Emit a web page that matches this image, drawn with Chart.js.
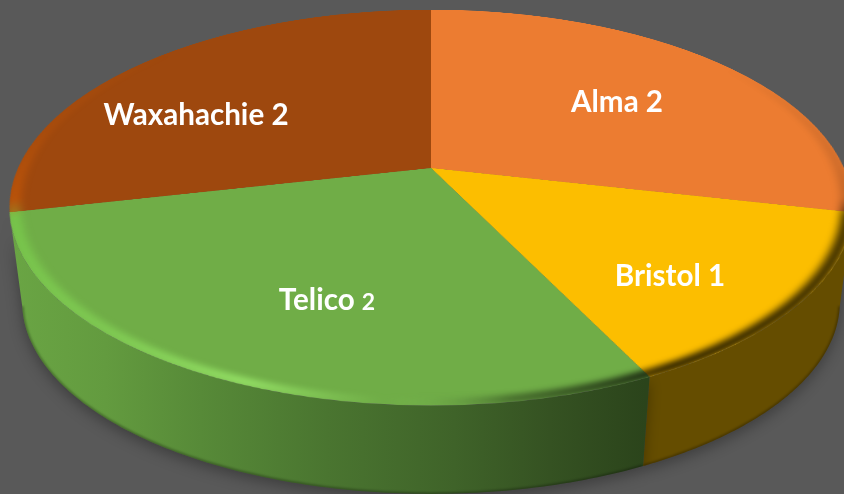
<!DOCTYPE html>
<html>
<head>
<meta charset="utf-8">
<script src="https://cdn.jsdelivr.net/npm/chart.js@4"></script>
<style>
  html, body { margin: 0; padding: 0; width: 844px; height: 494px; overflow: hidden; background: #595959; }
  canvas { position: absolute; left: 0; top: 0; }
  #pieChart { transform-origin: 0 0; }
  .lbl { position: absolute; transform: translate(-50%, -50%); color: #fff; white-space: nowrap;
         font: bold 29.6px Lato, "Open Sans", sans-serif; }
  .lbl small { font-size: 23px; }
</style>
</head>
<body>
<canvas id="wallCanvas" width="844" height="494"></canvas>
<canvas id="pieChart" width="900" height="900"></canvas>
<div id="labels"></div>
<script>
var sliceNames = ['Alma', 'Bristol', 'Telico', 'Waxahachie'];
var sliceValues = [2, 1, 2, 2];
var sliceColors = ['#EC7C31', '#FCBE00', '#70AD47', '#9E480E'];

// where the labels sit on the page, same order as the slices
var labelSpots = [[617, 99.5], [670, 273.5], [327, 297.5], [196, 113]];

// perspective of the pie's top face on the page
var apexX = 431, apexY = 168, faceRx = 413, faceRy = 190, tilt = 0.2;
// bottom edge of the side wall
var wallDrop = 95.5, wallShrink = 0.97;

function project(angle, level) {
    var x = Math.cos(angle), y = Math.sin(angle), w = 1 - tilt * y;
    var s = level ? wallShrink : 1;
    return {
        x: apexX + faceRx * x / w * s,
        y: apexY + faceRy * y / w * s + (level ? wallDrop : 0)
    };
}

function wallFill(ctx, index) {
    if (index !== 2) return '#654D00';
    var g = ctx.createLinearGradient(10, 0, 645, 0);
    g.addColorStop(0, '#6AA544');
    g.addColorStop(0.15, '#639B3F');
    g.addColorStop(0.3, '#578A38');
    g.addColorStop(0.5, '#4A7530');
    g.addColorStop(0.7, '#3F6329');
    g.addColorStop(0.85, '#355222');
    g.addColorStop(1, '#2B441B');
    return g;
}

function drawWall(meta) {
    var ctx = document.getElementById('wallCanvas').getContext('2d');
    meta.data.forEach(function (arc, i) {
        var mid = (arc.startAngle + arc.endAngle) / 2;
        if (Math.sin(mid) <= 0) return;   // back of the pie has no visible wall
        var a, steps = 120, step = (arc.endAngle - arc.startAngle) / steps, p;
        var outline = new Path2D(), lower = new Path2D();
        for (a = 0; a <= steps; a++) {
            p = project(arc.startAngle + a * step, 0);
            if (a === 0) outline.moveTo(p.x, p.y); else outline.lineTo(p.x, p.y);
        }
        for (a = steps; a >= 0; a--) {
            p = project(arc.startAngle + a * step, 1);
            outline.lineTo(p.x, p.y);
            if (a === steps) lower.moveTo(p.x, p.y); else lower.lineTo(p.x, p.y);
        }
        outline.closePath();

        ctx.save();
        ctx.shadowColor = 'rgba(0,0,0,0.3)';
        ctx.shadowBlur = 14;
        ctx.shadowOffsetY = 5;
        ctx.fillStyle = wallFill(ctx, i);
        ctx.fill(outline);
        ctx.restore();

        // darker lip along the bottom edge
        ctx.save();
        ctx.clip(outline);
        ctx.filter = 'blur(1px)';
        ctx.strokeStyle = 'rgba(0,0,0,0.3)';
        ctx.lineWidth = 3;
        ctx.stroke(lower);
        ctx.restore();
    });
}

// soft bevel round the rim of the top face
function drawRim(chart, arc) {
    var ctx = chart.ctx, r = arc.outerRadius, band = 13;
    var g = ctx.createConicGradient(0, arc.x, arc.y);
    g.addColorStop(0, 'rgba(0,0,0,0.12)');
    g.addColorStop(0.025, 'rgba(0,0,0,0.2)');
    g.addColorStop(0.04, 'rgba(0,0,0,0.75)');
    g.addColorStop(0.17, 'rgba(0,0,0,0.8)');
    g.addColorStop(0.225, 'rgba(0,0,0,0.35)');
    g.addColorStop(0.265, 'rgba(170,255,120,0)');
    g.addColorStop(0.31, 'rgba(170,255,120,0.6)');
    g.addColorStop(0.37, 'rgba(150,245,100,0.4)');
    g.addColorStop(0.46, 'rgba(130,235,80,0.4)');
    g.addColorStop(0.475, 'rgba(255,110,0,0.3)');
    g.addColorStop(0.53, 'rgba(255,110,0,0.12)');
    g.addColorStop(0.62, 'rgba(255,110,0,0)');
    g.addColorStop(0.9, 'rgba(0,0,0,0)');
    g.addColorStop(1, 'rgba(0,0,0,0.12)');
    ctx.save();
    ctx.beginPath();
    ctx.arc(arc.x, arc.y, r, 0, Math.PI * 2);
    ctx.clip();
    ctx.filter = 'blur(4px)';
    ctx.strokeStyle = g;
    ctx.lineWidth = band;
    ctx.beginPath();
    ctx.arc(arc.x, arc.y, r - band / 2 + 2, 0, Math.PI * 2);
    ctx.stroke();
    ctx.restore();
}

function placeFace(el, arc) {
    var r = arc.outerRadius, c = arc.x, k = 1 + tilt * c / r;
    var m = [
        faceRx / r, 0, 0, 0,
        -apexX * tilt / r, faceRy / r - apexY * tilt / r, 0, -tilt / r,
        0, 0, 1, 0,
        apexX * k - faceRx * c / r, apexY * k - faceRy * c / r, 0, k
    ];
    el.style.transform = 'matrix3d(' + m.join(',') + ')';
}

var piePerspective = {
    id: 'piePerspective',
    afterDatasetsDraw: function (chart) {
        var meta = chart.getDatasetMeta(0);
        drawRim(chart, meta.data[0]);
        placeFace(chart.canvas, meta.data[0]);
        drawWall(meta);
    }
};

var pieChart = new Chart(document.getElementById('pieChart').getContext('2d'), {
    type: 'pie',
    data: {
        labels: sliceNames,
        datasets: [{
            data: sliceValues,
            backgroundColor: sliceColors,
            borderWidth: 0
        }]
    },
    options: {
        responsive: false,
        animation: false,
        events: [],
        radius: 440,
        plugins: { legend: { display: false }, tooltip: { enabled: false } }
    },
    plugins: [piePerspective]
});

sliceNames.forEach(function (name, i) {
    var el = document.createElement('div');
    el.className = 'lbl';
    el.style.left = labelSpots[i][0] + 'px';
    el.style.top = labelSpots[i][1] + 'px';
    if (name === 'Telico') {
        el.innerHTML = name + ' <small>' + sliceValues[i] + '</small>';
    } else {
        el.textContent = name + ' ' + sliceValues[i];
    }
    document.getElementById('labels').appendChild(el);
});
</script>
</body>
</html>
